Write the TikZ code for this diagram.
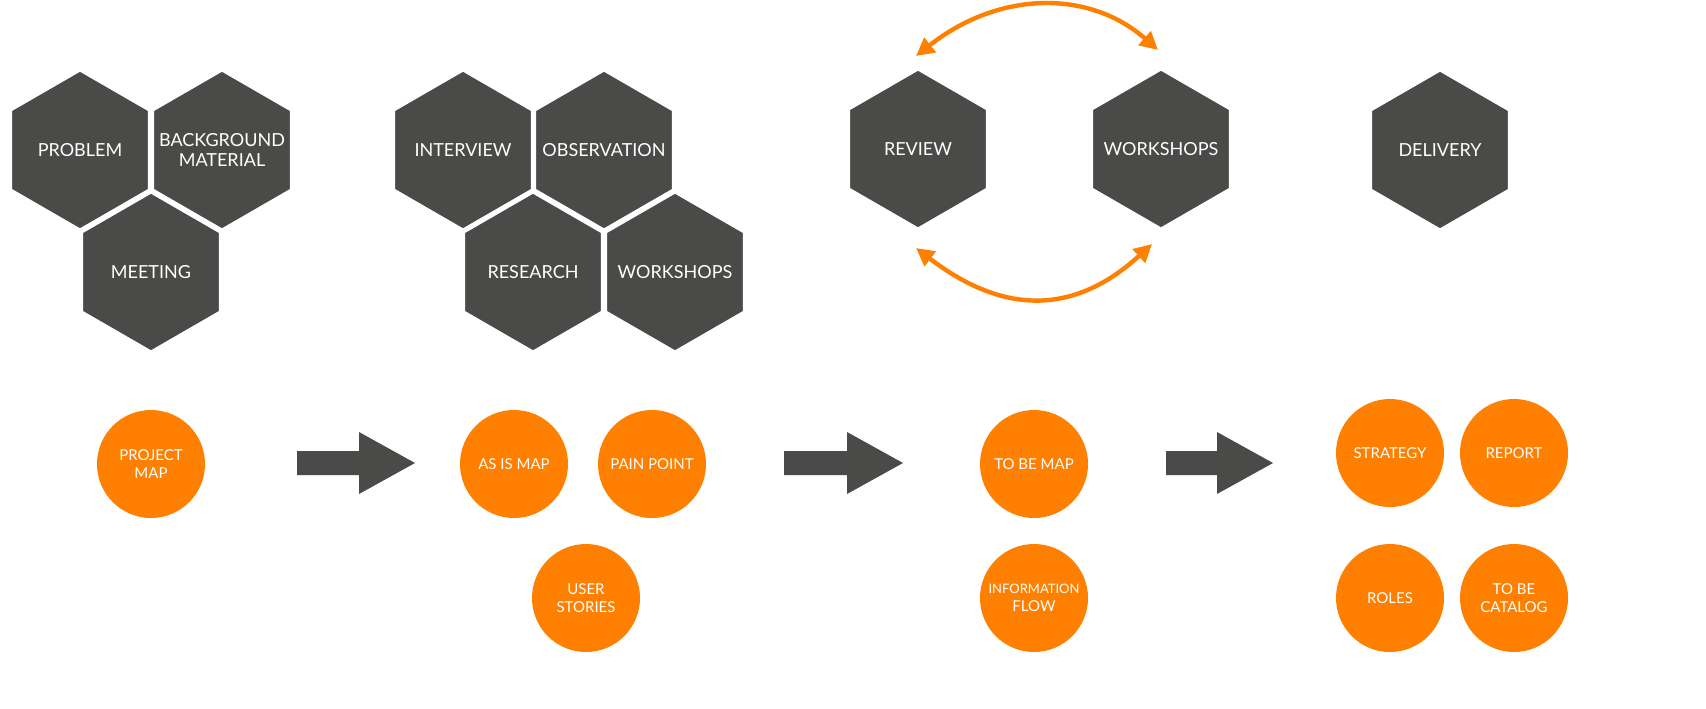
\documentclass[tikz,border=0pt]{standalone}
\usepackage{fontspec}
\setmainfont{Lato}
\usetikzlibrary{shapes.geometric,arrows.meta}
\definecolor{hexgray}{HTML}{4A4A48}
\definecolor{dotorange}{HTML}{FF8000}
\tikzset{
  hex/.style={regular polygon, regular polygon sides=6, shape border rotate=30,
    fill=hexgray, draw=white, line width=1.5pt, minimum size=80pt, inner sep=0pt,
    label={[text=white, font=\fontsize{9}{10}\selectfont, align=center]center:#1}},
  dot/.style={circle, fill=dotorange, minimum size=54pt, inner sep=0pt,
    label={[text=white, font=\fontsize{7.5}{9}\selectfont, align=center]center:#1}},
  swap/.style={dotorange, line width=2.2pt, {Triangle[length=9pt,width=9pt]}-{Triangle[length=9pt,width=9pt]}}
}
\begin{document}
\begin{tikzpicture}[x=0.5pt,y=-0.5pt]
    \useasboundingbox (0,0) rectangle (1706,708);
    % hexagons
    \node[hex={PROBLEM}] (problem) at (80,150) {};
    \node[hex={BACKGROUND\\MATERIAL}] (background) at (222,150) {};
    \node[hex={MEETING}] (meeting) at (151,272) {};
    \node[hex={INTERVIEW}] (interview) at (463,150) {};
    \node[hex={OBSERVATION}] (observation) at (604,150) {};
    \node[hex={RESEARCH}] (research) at (533,272) {};
    \node[hex={WORKSHOPS}] (workshopsA) at (675,272) {};
    \node[hex={REVIEW}] (review) at (918,149) {};
    \node[hex={WORKSHOPS}] (workshopsB) at (1161,149) {};
    \node[hex={DELIVERY}] (delivery) at (1440,150) {};
    % circles
    \node[dot={PROJECT\\MAP}] (projectmap) at (151,464) {};
    \node[dot={AS IS MAP}] (asismap) at (514,464) {};
    \node[dot={PAIN POINT}] (painpoint) at (652,464) {};
    \node[dot={USER\\STORIES}] (userstories) at (586,598) {};
    \node[dot={TO BE MAP}] (tobemap) at (1034,464) {};
    \node[dot={{\fontsize{6.5}{8}\selectfont INFORMATION\\FLOW}}] (infoflow) at (1034,598) {};
    \node[dot={STRATEGY}] (strategy) at (1390,453) {};
    \node[dot={REPORT}] (report) at (1514,453) {};
    \node[dot={ROLES}] (roles) at (1390,598) {};
    \node[dot={TO BE\\CATALOG}] (catalog) at (1514,598) {};
    % block arrows
    \foreach \xa/\xb in {297/415, 784/903, 1166/1273}
        \fill[hexgray] (\xa,451) -- (\xb-56,451) -- (\xb-56,432) -- (\xb,463)
            -- (\xb-56,494) -- (\xb-56,475) -- (\xa,475) -- cycle;
    % loop arrows
    \coordinate (topL) at (916,56);
    \coordinate (topR) at (1158,50);
    \coordinate (botL) at (916,248);
    \coordinate (botR) at (1152,244);
    \draw[swap] (topL) .. controls (1000,-10) and (1090,-10) .. (topR);
    \draw[swap] (botL) .. controls (1010,320) and (1080,310) .. (botR);
\end{tikzpicture}
\end{document}
